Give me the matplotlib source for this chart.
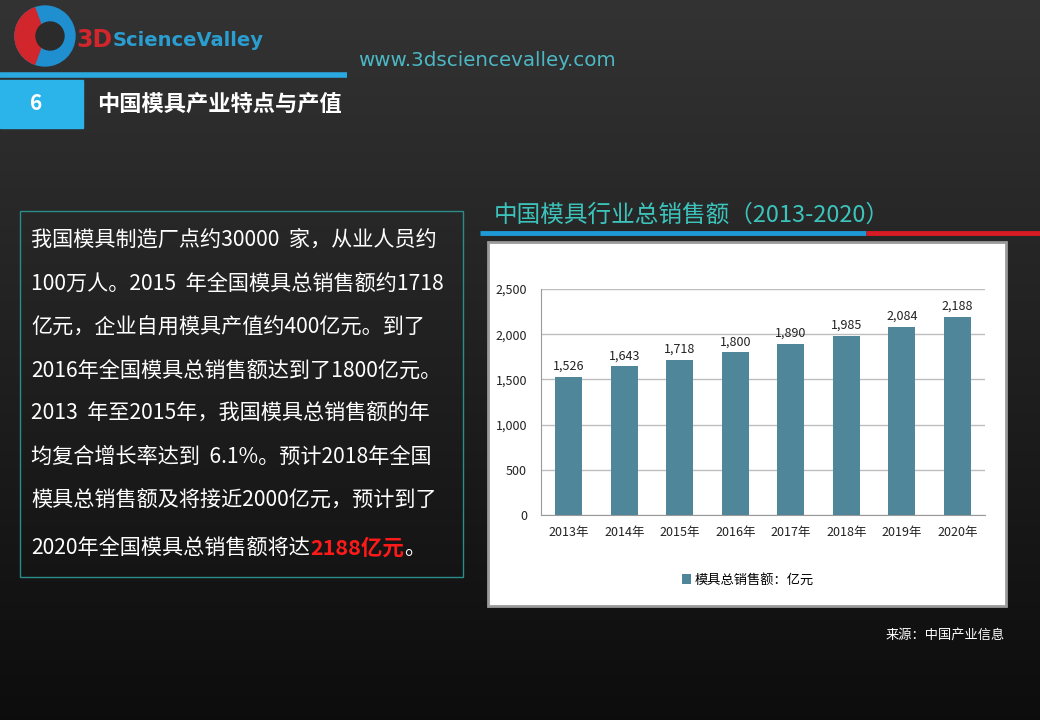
import matplotlib
matplotlib.use('Agg')
import matplotlib.pyplot as plt
import numpy as np
from matplotlib.patches import Rectangle, Circle, Wedge
from matplotlib.ticker import StrMethodFormatter

plt.rcParams['font.family'] = ['Noto Sans CJK SC', 'DejaVu Sans']

# Data
years = ['2013年', '2014年', '2015年', '2016年', '2017年', '2018年', '2019年', '2020年']
sales = [1526, 1643, 1718, 1800, 1890, 1985, 2084, 2188]
yticks = [0, 500, 1000, 1500, 2000, 2500]

body_lines = [
    '我国模具制造厂点约30000  家，从业人员约',
    '100万人。2015  年全国模具总销售额约1718',
    '亿元，企业自用模具产值约400亿元。到了',
    '2016年全国模具总销售额达到了1800亿元。',
    '2013  年至2015年，我国模具总销售额的年',
    '均复合增长率达到  6.1%。预计2018年全国',
    '模具总销售额及将接近2000亿元，预计到了',
]
last_line = ['2020年全国模具总销售额将达', '2188亿元', '。']

W, H = 1040, 720
fig = plt.figure(figsize=(10.4, 7.2), dpi=100)


def fx(x):
    return x / W


def fy(y):
    return 1 - y / H


# Background gradient
bg = fig.add_axes([0, 0, 1, 1])
grad = np.linspace(0.20, 0.05, 256).reshape(-1, 1)
bg.imshow(np.dstack([grad, grad, grad]), aspect='auto', extent=[0, W, H, 0])
bg.set_xlim(0, W)
bg.set_ylim(H, 0)
bg.axis('off')
fig.canvas.draw()
r = fig.canvas.get_renderer()

# Logo
bg.add_patch(Circle((45, 36), 30, color='#1f8fd0'))
bg.add_patch(Wedge((45, 36), 30, 110, 250, color='#d0262c'))
bg.add_patch(Circle((50, 36), 14, color='#2b2b2b'))
t3d = bg.text(76, 40, '3D', fontsize=17, color='#d0262c', fontweight='bold', va='center',
              family='DejaVu Sans')
w3d = t3d.get_window_extent(renderer=r).width
bg.text(76 + w3d + 1, 40, 'ScienceValley', fontsize=14, color='#2a9ed0', fontweight='bold',
        va='center', family='DejaVu Sans')
bg.text(358, 60, 'www.3dsciencevalley.com', fontsize=14.3, color='#4cb8c4', va='center',
        family='DejaVu Sans')

# header bar
bg.plot([0, 347], [75, 75], color='#2aa8e0', lw=4, solid_capstyle='butt')
bg.add_patch(Rectangle((0, 80), 83, 48, color='#2ab4ea'))
bg.text(36, 104, '6', fontsize=15, color='white', fontweight='bold', ha='center', va='center')
bg.text(97, 104, '中国模具产业特点与产值', fontsize=16, color='white', fontweight='bold', va='center')

# left text box
bg.add_patch(Rectangle((20, 211), 443, 366, fill=False, edgecolor='#2c8c8c', lw=1))
line_y = [240, 284, 328, 371, 414, 457, 501]
for t, yy in zip(body_lines, line_y):
    bg.text(31, yy, t, fontsize=15.2, color='white', va='center')

x0 = 31
for i, t in enumerate(last_line):
    if i == 1:
        tx = bg.text(x0, 548, t, fontsize=15.5, color='#ff1a1a', va='center', fontweight='bold')
    else:
        tx = bg.text(x0, 548, t, fontsize=15.2, color='white', va='center')
    bb = tx.get_window_extent(renderer=r)
    x0 += bb.width

# chart title and rule
bg.text(494, 215, '中国模具行业总销售额（2013-2020）', fontsize=17, color='#3cc4bc', va='center')
bg.plot([480, 866], [233, 233], color='#1e9ad6', lw=3.5, solid_capstyle='butt')
bg.plot([866, 1040], [233, 233], color='#d81c24', lw=3.5, solid_capstyle='butt')

# white panel
bg.add_patch(Rectangle((488, 242), 518, 364, facecolor='white', edgecolor='#9a9a9a', lw=2))

# source
bg.text(1005, 635, '来源：中国产业信息', fontsize=9.5, color='white', ha='right', va='center')

# Bar chart
ax = fig.add_axes([fx(541), fy(515), (985 - 541) / W, (515 - 289) / H])
bars = ax.bar(years, sales, width=0.49, color='#4f8699', label='模具总销售额：亿元', zorder=3)
for i, v in enumerate(sales):
    ax.text(i, v + 45, f'{v:,}', ha='center', va='bottom', fontsize=9, color='#222222')
ax.set_xlim(-0.5, 7.5)
ax.set_ylim(0, 2500)
ax.set_yticks(yticks)
ax.yaxis.set_major_formatter(StrMethodFormatter('{x:,.0f}'))
ax.grid(axis='y', color='#bdbdbd', lw=1, zorder=0)
for s in ['top', 'right']:
    ax.spines[s].set_visible(False)
for s in ['left', 'bottom']:
    ax.spines[s].set_color('#9a9a9a')
ax.tick_params(length=0, labelsize=9, colors='#222222')
ax.tick_params(axis='x', pad=8)
ax.tick_params(axis='y', pad=10)
ax.set_facecolor('white')

fig.legend(handles=[bars], labels=['模具总销售额：亿元'], loc='center',
           bbox_to_anchor=(fx(748), fy(580)), frameon=False, fontsize=9.5,
           handlelength=0.7, handleheight=0.7, handletextpad=0.3)

fig.savefig('out.png', dpi=100)
